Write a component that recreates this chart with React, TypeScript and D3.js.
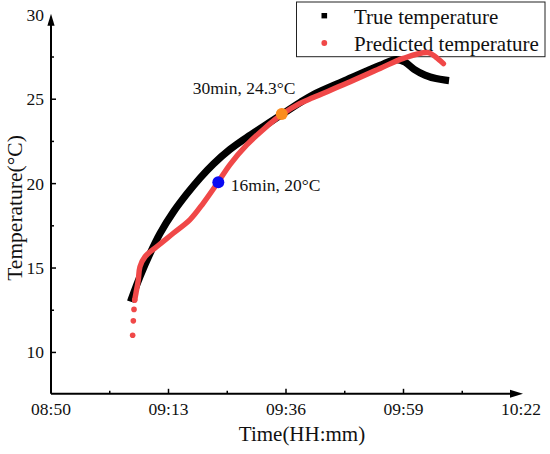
import * as d3 from 'd3'

// readings taken off the plot (clock time, °C)
const trueTimes = [
  '09:05:48', '09:07:25', '09:09:23', '09:11:20', '09:13:56', '09:16:34', '09:19:10',
  '09:21:46', '09:25:02', '09:28:19', '09:31:34', '09:34:11', '09:38:44', '09:41:20',
  '09:47:53', '09:54:24', '09:57:32', '09:59:17', '10:01:03', '10:03:12', '10:05:22', '10:07:13',
]
const trueTemps = [
  13.21, 14.49, 15.86, 17.05, 18.31, 19.38, 20.33,
  21.16, 22.03, 22.74, 23.38, 23.9, 24.8, 25.27,
  26.15, 27.0, 27.35, 27.2, 26.78, 26.43, 26.22, 26.13,
]

const predTimes = [
  '09:05:59', '09:06:07', '09:06:15', '09:06:23', '09:06:38', '09:07:05', '09:07:25',
  '09:08:24', '09:10:41', '09:13:56', '09:17:13', '09:19:49', '09:22:45', '09:25:02',
  '09:28:19', '09:31:34', '09:35:10', '09:38:44', '09:41:20', '09:47:53', '09:54:24',
  '09:58:58', '10:03:47', '10:05:22', '10:06:49',
]
const predTemps = [
  11.02, 11.87, 12.55, 13.1, 13.51, 14.28, 15.08,
  15.67, 16.26, 17.06, 17.87, 18.85, 20.11, 21.13,
  22.29, 23.21, 24.09, 24.75, 25.1, 25.94, 26.82,
  27.42, 27.76, 27.49, 27.11,
]

const keyTimes = ['09:22:45', '09:35:10']
const keyTemps = [20.08, 24.12]
const keyLabels = ['16min, 20°C', '30min, 24.3°C']

const xTickLabels = ['08:50', '09:13', '09:36', '09:59', '10:22']
const yTicks = [10, 15, 20, 25, 30]
const legendLabels = ['True temperature', 'Predicted temperature']

const parse = d3.timeParse('%H:%M:%S')
const toDate = (s: string) => parse(s.length === 5 ? s + ':00' : s) as Date

const W = 550
const H = 454
const FONT = '"Liberation Serif", "Times New Roman", serif'
const RED = '#f04848'

export default function App() {
  const x = d3.scaleTime()
    .domain([toDate('08:50'), toDate('10:22')])
    .range([51, 521])
  const y = d3.scaleLinear().domain([7.55, 30]).range([393.8, 14.8])

  const trueData = trueTimes.map((t, i) => ({ t: toDate(t), v: trueTemps[i] }))
  const predData = predTimes.map((t, i) => ({ t: toDate(t), v: predTemps[i] }))

  const line = d3.line<{ t: Date; v: number }>()
    .x(d => x(d.t))
    .y(d => y(d.v))
    .curve(d3.curveCatmullRom.alpha(0.5))

  // the first predicted points stand apart; the band starts where they close up
  let bandStart = 0
  for (let i = 0; i < predData.length - 1; i++) {
    const dx = x(predData[i + 1].t) - x(predData[i].t)
    const dy = y(predData[i + 1].v) - y(predData[i].v)
    if (Math.hypot(dx, dy) < 8) { bandStart = i; break }
  }

  const xTicks = xTickLabels.map(toDate)
  const xMinor = xTicks.slice(0, -1).map((d, i) => new Date((d.getTime() + xTicks[i + 1].getTime()) / 2))
  const yMinor = yTicks.slice(0, -1).map((v, i) => (v + yTicks[i + 1]) / 2)

  const x0 = x.range()[0]
  const x1 = x.range()[1]
  const y0 = y.range()[0]
  const y1 = y.range()[1]
  const fmt = d3.timeFormat('%H:%M')

  const keyColors = ['#0a0af2', '#fb8d1e']
  const keyOffsets = [[12.5, 9], [-89, -20]]

  return (
    <svg width={W} height={H} style={{ position: 'absolute', left: 0, top: 0, fontFamily: FONT }}>
      <rect width={W} height={H} fill="#fff" />

      {/* legend */}
      <g>
        <rect x={296.5} y={2} width={248.5} height={54.7} fill="#fff" stroke="#222" strokeWidth={1} />
        <rect x={321.5} y={13} width={5.6} height={5.4} fill="#000" />
        <circle cx={324.3} cy={43} r={2.9} fill={RED} />
        <text x={354} y={24} fontSize={21} fill="#111">{legendLabels[0]}</text>
        <text x={354} y={50.7} fontSize={21} fill="#111">{legendLabels[1]}</text>
      </g>

      {/* true temperature */}
      <path d={line(trueData) ?? ''} fill="none" stroke="#000" strokeWidth={7.2}
        strokeLinecap="square" strokeLinejoin="round" />

      {/* predicted temperature */}
      <path d={line(predData.slice(bandStart)) ?? ''} fill="none" stroke={RED} strokeWidth={5.4}
        strokeLinecap="round" strokeLinejoin="round" />
      {predData.slice(0, bandStart + 1).map((d, i) => (
        <circle key={i} cx={x(d.t)} cy={y(d.v)} r={2.8} fill={RED} />
      ))}

      {/* marked points */}
      {keyTimes.map((t, i) => {
        const cx = x(toDate(t))
        const cy = y(keyTemps[i])
        return (
          <g key={t}>
            <circle cx={cx} cy={cy} r={6} fill={keyColors[i]} />
            <text x={cx + keyOffsets[i][0]} y={cy + keyOffsets[i][1]} fontSize={17.5} fill="#111">
              {keyLabels[i]}
            </text>
          </g>
        )
      })}

      {/* axes */}
      <g stroke="#000" strokeWidth={2} fill="none">
        <line x1={x0} x2={x1 - 8} y1={y0} y2={y0} />
        <line x1={x0} x2={x0} y1={y0} y2={y1 + 8} />
        {xTicks.slice(1, -1).map((d, i) => (
          <line key={'xt' + i} x1={x(d)} x2={x(d)} y1={y0} y2={y0 - 5} strokeWidth={1.5} />
        ))}
        {xMinor.map((d, i) => (
          <line key={'xm' + i} x1={x(d)} x2={x(d)} y1={y0} y2={y0 - 3} strokeWidth={1.5} />
        ))}
        {yTicks.slice(0, -1).map(v => (
          <line key={'yt' + v} x1={x0} x2={x0 + 5} y1={y(v)} y2={y(v)} strokeWidth={1.5} />
        ))}
        {yMinor.map(v => (
          <line key={'ym' + v} x1={x0} x2={x0 + 3} y1={y(v)} y2={y(v)} strokeWidth={1.5} />
        ))}
      </g>
      <path d={`M${x1 + 2},${y0} L${x1 - 11},${y0 - 4} L${x1 - 11},${y0 + 4} Z`} fill="#000" />
      <path d={`M${x0},${y1 - 1} L${x0 - 3.6},${y1 + 11} L${x0 + 3.6},${y1 + 11} Z`} fill="#000" />

      {xTicks.map((d, i) => (
        <text key={'xl' + i} x={x(d)} y={y0 + 21} fontSize={17.5} textAnchor="middle" fill="#111">
          {fmt(d)}
        </text>
      ))}
      {yTicks.map(v => (
        <text key={'yl' + v} x={x0 - 7} y={y(v)} fontSize={17.5} textAnchor="end"
          dominantBaseline="central" fill="#111">
          {v}
        </text>
      ))}

      <text x={(x0 + x1) / 2 + 16} y={441} fontSize={21} textAnchor="middle" fill="#111">
        Time(HH:mm)
      </text>
      <text transform={`translate(21.7, ${208}) rotate(-90)`} fontSize={21.5} textAnchor="middle" fill="#111">
        Temperature(°C)
      </text>
    </svg>
  )
}
